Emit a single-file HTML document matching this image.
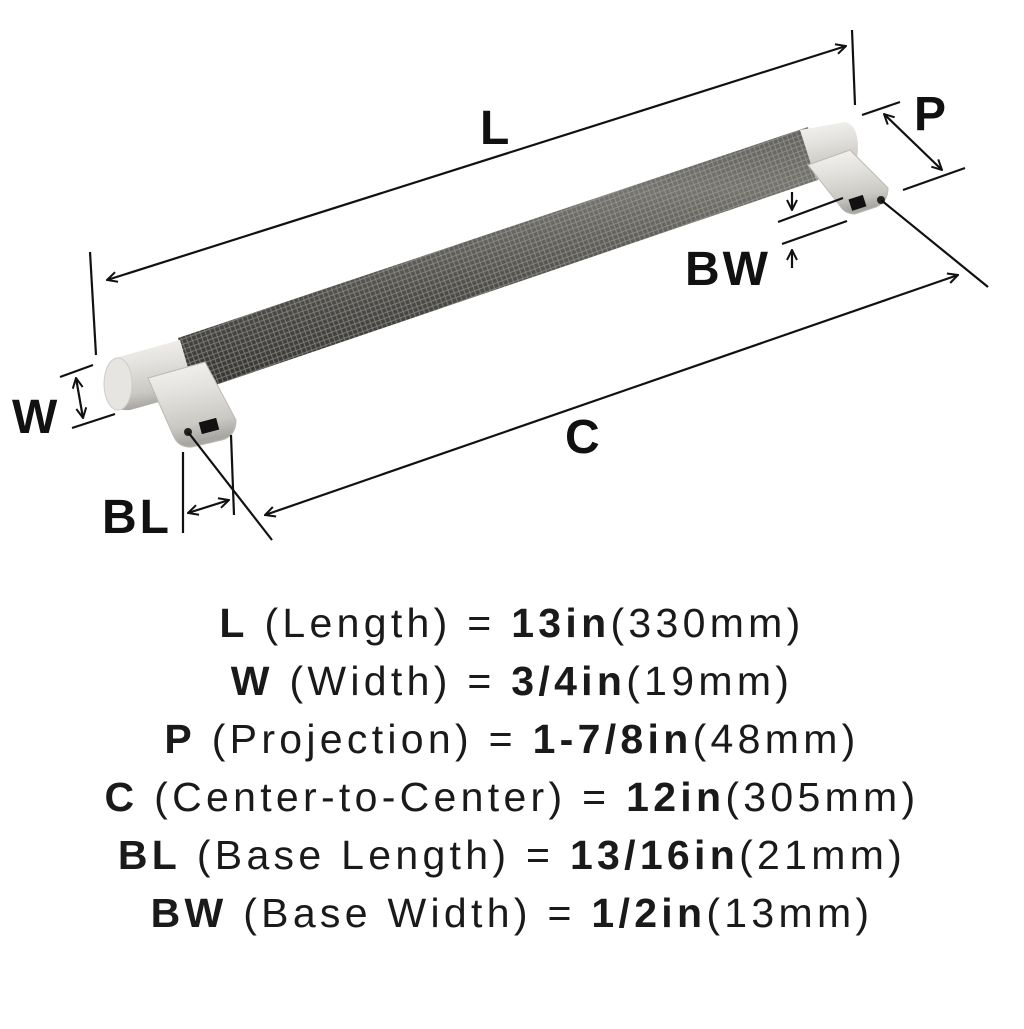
<!DOCTYPE html>
<html><head><style>
html,body{margin:0;padding:0;background:#fff;}
.t{font-family:"Liberation Sans",sans-serif;font-size:41px;fill:#1a1a1a;letter-spacing:4.3px;}
</style></head><body>
<svg width="1024" height="1024" viewBox="0 0 1024 1024" xmlns="http://www.w3.org/2000/svg">
<defs>
<linearGradient id="bar" x1="0" y1="0" x2="0.15" y2="1">
<stop offset="0" stop-color="#55544f"/><stop offset="0.35" stop-color="#75746e"/><stop offset="0.7" stop-color="#4a4945"/><stop offset="1" stop-color="#33322f"/>
</linearGradient>
<pattern id="knurl" width="7" height="7" patternUnits="userSpaceOnUse" patternTransform="rotate(25)">
<path d="M0 0L7 7M7 0L0 7" stroke="#a9a8a3" stroke-width="0.9" opacity="0.6"/>
</pattern>
<linearGradient id="chrome" x1="0" y1="0" x2="0.2" y2="1">
<stop offset="0" stop-color="#f6f5f2"/><stop offset="0.4" stop-color="#e4e2de"/><stop offset="0.8" stop-color="#cbc9c4"/><stop offset="1" stop-color="#a9a7a2"/>
</linearGradient>
<marker id="a" markerWidth="12" markerHeight="12" refX="11" refY="6" orient="auto-start-reverse" markerUnits="userSpaceOnUse">
<path d="M1 1L11 6L1 11" fill="none" stroke="#111" stroke-width="2"/>
</marker>
</defs>
<polygon points="178,338 808,127 818,180 195,392" fill="url(#bar)"/>
<polygon points="178,338 808,127 818,180 195,392" fill="url(#knurl)"/>
<path d="M115,358 L180,340 L195,392 L130,410 Q105,412 104,385 Q104,362 115,358Z" fill="url(#chrome)"/>
<ellipse cx="118" cy="384" rx="14" ry="26" fill="#e6e5e2" stroke="#cfcdc8"/>
<path d="M148,378 L205,362 L236,420 Q236,436 222,440 L192,447 Q178,448 173,435 Z" fill="url(#chrome)" stroke="#bdbab5" stroke-width="1"/>
<rect x="200" y="420" width="18" height="12" fill="#111" transform="rotate(-15 209 426)"/>
<circle cx="188" cy="432" r="4" fill="#222"/>
<path d="M800,130 L845,122 Q858,125 858,148 Q858,168 845,170 L816,180 Z" fill="url(#chrome)"/>
<path d="M808,165 L850,150 L888,188 Q888,202 876,207 L855,214 Q845,214 840,206 Z" fill="url(#chrome)" stroke="#bdbab5" stroke-width="1"/>
<rect x="850" y="197" width="15" height="12" fill="#111" transform="rotate(-18 857 203)"/>
<circle cx="881" cy="200" r="4" fill="#222"/>
<g stroke="#111" stroke-width="2.2" fill="none">
<line x1="90" y1="252" x2="96" y2="355"/>
<line x1="852" y1="30" x2="855" y2="105"/>
<line x1="107" y1="280" x2="846" y2="46" marker-start="url(#a)" marker-end="url(#a)"/>
<line x1="862" y1="115" x2="900" y2="102"/>
<line x1="903" y1="190" x2="965" y2="168"/>
<line x1="884" y1="114" x2="942" y2="170" marker-start="url(#a)" marker-end="url(#a)"/>
<line x1="778" y1="222" x2="843" y2="198"/>
<line x1="782" y1="244" x2="847" y2="221"/>
<line x1="792" y1="192" x2="792" y2="210" marker-end="url(#a)"/>
<line x1="792" y1="268" x2="792" y2="250" marker-end="url(#a)"/>
<line x1="188" y1="432" x2="272" y2="540"/>
<line x1="881" y1="200" x2="988" y2="287"/>
<line x1="265" y1="515" x2="958" y2="275" marker-start="url(#a)" marker-end="url(#a)"/>
<line x1="60" y1="377" x2="93" y2="365"/>
<line x1="72" y1="428" x2="115" y2="414"/>
<line x1="76" y1="378" x2="83" y2="418" marker-start="url(#a)" marker-end="url(#a)"/>
<line x1="183" y1="452" x2="183" y2="533"/>
<line x1="231" y1="435" x2="234" y2="515"/>
<line x1="188" y1="513" x2="229" y2="500" marker-start="url(#a)" marker-end="url(#a)"/>
</g>
<g font-family="Liberation Sans, sans-serif" font-weight="bold" font-size="48" fill="#111" letter-spacing="3">
<text x="480" y="144">L</text>
<text x="914" y="130">P</text>
<text x="685" y="285">BW</text>
<text x="565" y="453">C</text>
<text x="12" y="433">W</text>
<text x="102" y="533">BL</text>
</g>
<g class="t" text-anchor="middle">
<text x="512" y="637"><tspan font-weight="bold">L</tspan> (Length) = <tspan font-weight="bold">13in</tspan>(330mm)</text>
<text x="512" y="695"><tspan font-weight="bold">W</tspan> (Width) = <tspan font-weight="bold">3/4in</tspan>(19mm)</text>
<text x="512" y="753"><tspan font-weight="bold">P</tspan> (Projection) = <tspan font-weight="bold">1-7/8in</tspan>(48mm)</text>
<text x="512" y="811"><tspan font-weight="bold">C</tspan> (Center-to-Center) = <tspan font-weight="bold">12in</tspan>(305mm)</text>
<text x="512" y="869"><tspan font-weight="bold">BL</tspan> (Base Length) = <tspan font-weight="bold">13/16in</tspan>(21mm)</text>
<text x="512" y="927"><tspan font-weight="bold">BW</tspan> (Base Width) = <tspan font-weight="bold">1/2in</tspan>(13mm)</text>
</g>
</svg>
</body></html>
